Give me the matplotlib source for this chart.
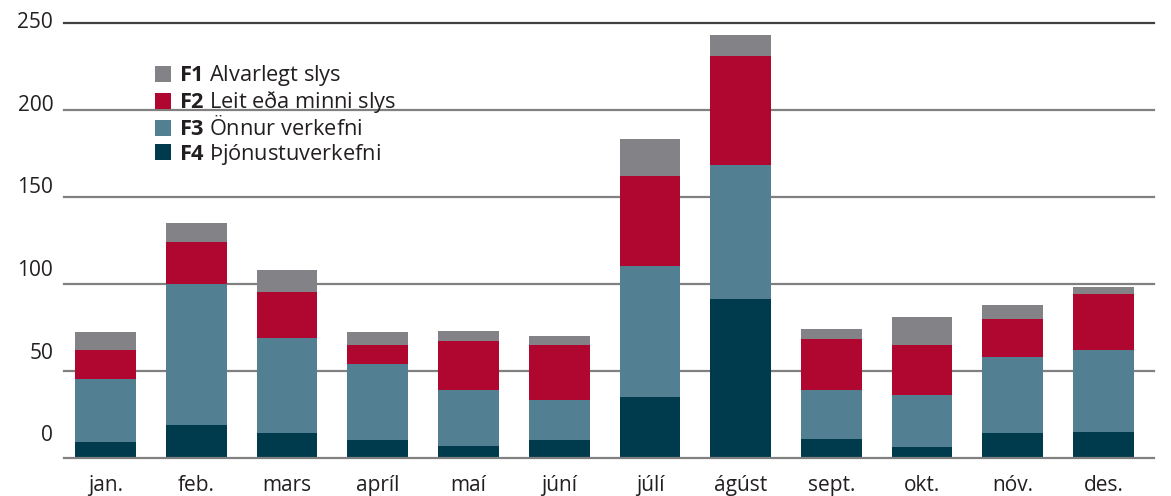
import numpy as np
from matplotlib import pyplot as plt
from matplotlib.patches import Patch
from matplotlib.transforms import blended_transform_factory

plt.rcParams["font.family"] = ["Open Sans", "DejaVu Sans"]
plt.rcParams["mathtext.fontset"] = "custom"
plt.rcParams["mathtext.bf"] = "Open Sans:bold"
plt.rcParams["mathtext.rm"] = "Open Sans"

months = ["jan.", "feb.", "mars", "apríl", "maí", "júní",
          "júlí", "ágúst", "sept.", "okt.", "nóv.", "des."]

# counts per month, stacked from bottom (F4) to top (F1)
f4 = [9, 19, 14, 10, 7, 10, 35, 91, 11, 6, 14, 15]
f3 = [36, 81, 55, 44, 32, 23, 75, 77, 28, 30, 44, 47]
f2 = [17, 24, 26, 11, 28, 32, 52, 63, 29, 29, 22, 32]
f1 = [10, 11, 13, 7, 6, 5, 21, 12, 6, 16, 8, 4]

series = [
    (f4, "#003a4d", r"$\bf{F4}$ Þjónustuverkefni"),
    (f3, "#537f93", r"$\bf{F3}$ Önnur verkefni"),
    (f2, "#b00731", r"$\bf{F2}$ Leit eða minni slys"),
    (f1, "#838387", r"$\bf{F1}$ Alvarlegt slys"),
]

yticks = [0, 50, 100, 150, 200, 250]
txt_col = "#231f20"

fig = plt.figure(figsize=(11.71, 4.96), dpi=100)
ax = fig.add_axes([0.0547, 0.0772, 0.9308, 0.8788])

x = np.arange(len(months))
bottom = np.zeros(len(months))
handles = []
for vals, col, lab in series:
    ax.bar(x, vals, width=0.67, bottom=bottom, color=col, zorder=2)
    bottom += np.array(vals)
    handles.append(Patch(facecolor=col, label=lab))

for t in yticks:
    ax.axhline(t, color="#808080" if t < 250 else "#404040", lw=1.6,
               zorder=1 if t > 0 else 3, clip_on=False)

ax.set_xlim(-0.458, 11.557)
ax.set_ylim(0, 250.5)
ax.set_xticks(x)
ax.set_xticklabels(months, fontsize=15, color=txt_col)
ax.set_yticks([])
ax.tick_params(axis="x", length=0, pad=12.5)
for s in ax.spines.values():
    s.set_visible(False)

# y labels sit progressively above their gridlines in the original
trans = blended_transform_factory(ax.transAxes, ax.transData)
for t in yticks:
    ax.text(-0.01, 12.5 + 0.95 * t, str(t), transform=trans,
            ha="right", va="center", fontsize=15, color=txt_col)

leg = ax.legend(handles=handles[::-1], loc="upper left",
                bbox_to_anchor=(0.083, 0.905), frameon=False, fontsize=15.7,
                handlelength=0.75, handleheight=0.75, handletextpad=0.35,
                labelspacing=0.05, borderpad=0, borderaxespad=0)
for t in leg.get_texts():
    t.set_color(txt_col)

fig.savefig("out.png", dpi=100)
